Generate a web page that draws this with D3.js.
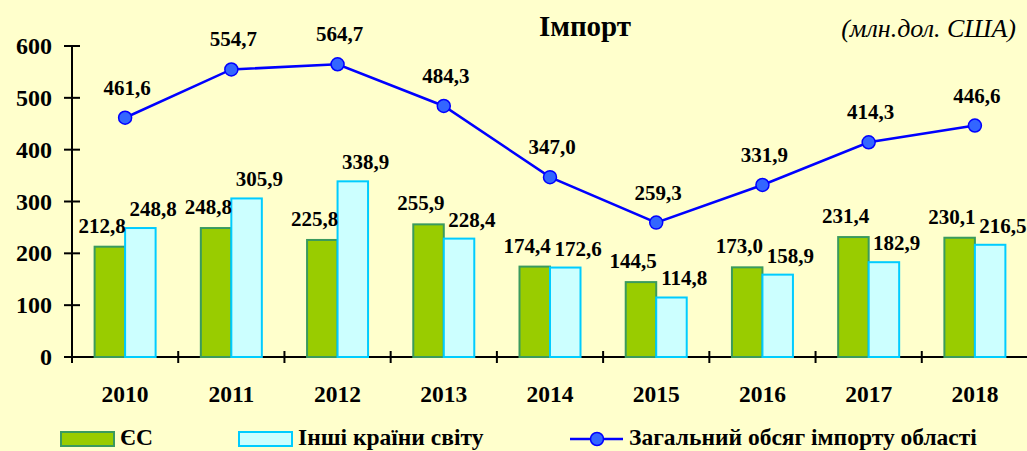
<!DOCTYPE html>
<html><head><meta charset="utf-8">
<script src="https://cdn.jsdelivr.net/npm/d3@7"></script>
<style>
html,body{margin:0;padding:0;background:#FFFFCC;}
svg{display:block;}
</style></head>
<body>
<svg id="chart" width="1027" height="451"></svg>
<script>
const years = ["2010","2011","2012","2013","2014","2015","2016","2017","2018"];
const euValues = [212.8,248.8,225.8,255.9,174.4,144.5,173.0,231.4,230.1];
const otherValues = [248.8,305.9,338.9,228.4,172.6,114.8,158.9,182.9,216.5];
const totalValues = [461.6,554.7,564.7,484.3,347.0,259.3,331.9,414.3,446.6];
const yTicks = [0,100,200,300,400,500,600];
const seriesNames = ["ЄС","Інші країни світу","Загальний обсяг імпорту області"];

const FF = "'Liberation Serif','Times New Roman',Times,serif";
const svg = d3.select("#chart");
svg.append("rect").attr("width",1027).attr("height",451).attr("fill","#FFFFCC");

const x = d3.scaleBand().domain(years).range([72,1028]).paddingInner(0).paddingOuter(0);
const y = d3.scaleLinear().domain([0,600]).range([357,46]);
const barW = 30.5;
const fmt = v => v.toFixed(1).replace(".",",");
const txt = (sel) => sel.attr("font-family",FF);

// axes
svg.append("line").attr("x1",72).attr("x2",72).attr("y1",y(600)).attr("y2",y(0)+6).attr("stroke","#000").attr("stroke-width",2);
svg.append("line").attr("x1",72-8).attr("x2",1027).attr("y1",y(0)).attr("y2",y(0)).attr("stroke","#000").attr("stroke-width",2);
yTicks.forEach(t=>{
  svg.append("line").attr("x1",64).attr("x2",80).attr("y1",y(t)).attr("y2",y(t)).attr("stroke","#000").attr("stroke-width",2);
  svg.append("text").call(txt).attr("x",52).attr("y",y(t)+8).attr("text-anchor","end")
    .attr("font-size",24).attr("font-weight","bold").text(t);
});
years.forEach((yr,i)=>{
  const xb = x(yr);
  svg.append("line").attr("x1",xb).attr("x2",xb).attr("y1",y(0)-6).attr("y2",y(0)+6).attr("stroke","#000").attr("stroke-width",2);
  svg.append("text").call(txt).attr("x",xb+x.bandwidth()/2).attr("y",402).attr("text-anchor","middle")
    .attr("font-size",23.5).attr("font-weight","bold").text(yr);
});

// bars
const cx = yr => x(yr)+x.bandwidth()/2;
svg.selectAll(".eu").data(years).enter().append("rect")
  .attr("x",d=>cx(d)-barW).attr("width",barW)
  .attr("y",(d,i)=>y(euValues[i])).attr("height",(d,i)=>y(0)-y(euValues[i]))
  .attr("fill","#99CC00").attr("stroke","#3A9A5E").attr("stroke-width",2);
svg.selectAll(".ot").data(years).enter().append("rect")
  .attr("x",d=>cx(d)).attr("width",barW)
  .attr("y",(d,i)=>y(otherValues[i])).attr("height",(d,i)=>y(0)-y(otherValues[i]))
  .attr("fill","#CCFFFF").attr("stroke","#00CCFF").attr("stroke-width",2);

svg.selectAll(".eul").data(years).enter().append("text").call(txt)
  .attr("x",d=>cx(d)-23).attr("y",(d,i)=>y(euValues[i])-14).attr("text-anchor","middle")
  .attr("font-size",21).attr("font-weight","bold").text((d,i)=>fmt(euValues[i]));
svg.selectAll(".otl").data(years).enter().append("text").call(txt)
  .attr("x",d=>cx(d)+28).attr("y",(d,i)=>y(otherValues[i])-12).attr("text-anchor","middle")
  .attr("font-size",21).attr("font-weight","bold").text((d,i)=>fmt(otherValues[i]));

// line
const line = d3.line().x((d,i)=>cx(years[i])).y(d=>y(d));
svg.append("path").datum(totalValues).attr("d",line).attr("fill","none").attr("stroke","#0000FF").attr("stroke-width",2.5);
svg.selectAll(".pt").data(totalValues).enter().append("circle")
  .attr("cx",(d,i)=>cx(years[i])).attr("cy",d=>y(d)).attr("r",6.5)
  .attr("fill","#3366FF").attr("stroke","#0000FF").attr("stroke-width",1.5);
svg.selectAll(".ptl").data(totalValues).enter().append("text").call(txt)
  .attr("x",(d,i)=>cx(years[i])+2).attr("y",d=>y(d)-23).attr("text-anchor","middle")
  .attr("font-size",21).attr("font-weight","bold").text(d=>fmt(d));

// titles
svg.append("text").call(txt).attr("x",585).attr("y",36).attr("text-anchor","middle")
  .attr("font-size",29).attr("font-weight","bold").text("Імпорт");
svg.append("text").call(txt).attr("x",1016).attr("y",37).attr("text-anchor","end")
  .attr("font-size",26).attr("font-style","italic").text("(млн.дол. США)");

// legend
const lg = svg.append("g");
lg.append("rect").attr("x",61).attr("y",432).attr("width",53).attr("height",14).attr("fill","#99CC00").attr("stroke","#3A9A5E").attr("stroke-width",2);
lg.append("text").call(txt).attr("x",120).attr("y",445).attr("font-size",23.5).attr("font-weight","bold").text(seriesNames[0]);
lg.append("rect").attr("x",239).attr("y",432).attr("width",53).attr("height",14).attr("fill","#CCFFFF").attr("stroke","#00CCFF").attr("stroke-width",2);
lg.append("text").call(txt).attr("x",298).attr("y",445).attr("font-size",23.5).attr("font-weight","bold").text(seriesNames[1]);
lg.append("line").attr("x1",570).attr("x2",623).attr("y1",439).attr("y2",439).attr("stroke","#0000FF").attr("stroke-width",2.5);
lg.append("circle").attr("cx",597).attr("cy",439).attr("r",6.5).attr("fill","#3366FF").attr("stroke","#0000FF").attr("stroke-width",1.5);
lg.append("text").call(txt).attr("x",629).attr("y",445).attr("font-size",23.5).attr("font-weight","bold").text(seriesNames[2]);
</script>
</body></html>
